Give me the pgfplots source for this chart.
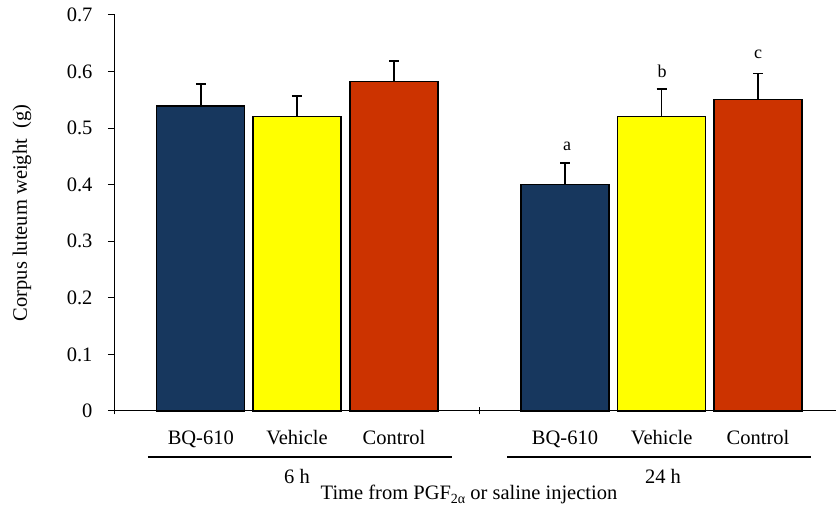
\documentclass[border=0pt]{standalone}
\usepackage{pgfplots}
\pgfplotsset{compat=1.18}
\usepackage{fontspec}
\setmainfont{Liberation Serif}
\definecolor{navy}{HTML}{17375E}
\definecolor{yel}{HTML}{FFFF00}
\definecolor{rust}{HTML}{CC3300}
\begin{document}
\begin{tikzpicture}
\begin{axis}[
  name=ax,
  scale only axis,
  width=721pt, height=396pt,
  xmin=0, xmax=721, ymin=0, ymax=0.7,
  axis x line*=bottom, axis y line*=left,
  axis line style={line width=1pt},
  ytick={0,0.1,0.2,0.3,0.4,0.5,0.6,0.7},
  yticklabels={0,0.1,0.2,0.3,0.4,0.5,0.6,0.7},
  ytick style={line width=1pt, black},
  tick align=outside, major tick length=7pt,
  yticklabel style={font=\fontsize{20.5}{24}\selectfont, xshift=-12pt},
  xtick={85.8,182,279,450,546.7,643},
  xticklabels={BQ-610,Vehicle,Control,BQ-610,Vehicle,Control},
  xtick style={draw=none},
  xticklabel style={font=\fontsize{20.5}{24}\selectfont, anchor=base, yshift=-27pt},
  /pgf/number format/assume math mode=true,
  ylabel={Corpus luteum weight\ \ (g)},
  ylabel style={font=\fontsize{20.5}{24}\selectfont, at={(axis description cs:-0.129,0.5)}, anchor=center},
  xlabel={Time from PGF{\fontsize{14}{15}\selectfont\raisebox{-4pt}{2α}} or saline injection},
  xlabel style={font=\fontsize{20.5}{24}\selectfont, at={(axis description cs:0.491,0)}, anchor=base, yshift=-89pt},
  ybar, bar width=88,
  clip=false,
]
\addplot[fill=navy, draw=black, line width=1.3pt, bar shift=0pt,
  error bars/.cd, y dir=plus, y explicit,
  error bar style={line width=1.5pt, black},
  error mark options={rotate=90, mark size=5pt, line width=1.5pt, black}]
  table[x=x, y=y, y error=e] {
x y e
85.8 0.539 0.039
450 0.400 0.038
};
\addplot[fill=yel, draw=black, line width=1.3pt, bar shift=0pt,
  error bars/.cd, y dir=plus, y explicit,
  error bar style={line width=1.5pt, black},
  error mark options={rotate=90, mark size=5pt, line width=1.5pt, black}]
  table[x=x, y=y, y error=e] {
x y e
182 0.520 0.037
546.7 0.520 0.049
};
\addplot[fill=rust, draw=black, line width=1.3pt, bar shift=0pt,
  error bars/.cd, y dir=plus, y explicit,
  error bar style={line width=1.5pt, black},
  error mark options={rotate=90, mark size=5pt, line width=1.5pt, black}]
  table[x=x, y=y, y error=e] {
x y e
279 0.582 0.037
643 0.551 0.046
};
% group separator ticks
\draw[line width=1pt] (axis cs:0,0) ++(0,-3.5pt) -- ++(0,7pt);
\draw[line width=1pt] (axis cs:364,0) ++(0,-3.5pt) -- ++(0,7pt);
% group underlines and labels
\draw[line width=1.2pt] (axis cs:33,0) ++(0,-46pt) -- ([yshift=-46pt]axis cs:337,0);
\draw[line width=1.2pt] (axis cs:392,0) ++(0,-46pt) -- ([yshift=-46pt]axis cs:696,0);
\node[anchor=base, font=\fontsize{20.5}{24}\selectfont] at ([yshift=-73pt]axis cs:182,0) {6 h};
\node[anchor=base, font=\fontsize{20.5}{24}\selectfont] at ([yshift=-73pt]axis cs:548,0) {24 h};
% significance letters
\node[anchor=base, font=\fontsize{18}{20}\selectfont] at ([yshift=13pt]axis cs:452,0.438) {a};
\node[anchor=base, font=\fontsize{18}{20}\selectfont] at ([yshift=12pt]axis cs:547,0.569) {b};
\node[anchor=base, font=\fontsize{18}{20}\selectfont] at ([yshift=15pt]axis cs:643,0.597) {c};
\end{axis}
\pgfresetboundingbox
\path ([xshift=-115pt,yshift=-108pt]ax.south west) rectangle ([yshift=15pt]ax.north east);
\end{tikzpicture}
\end{document}
